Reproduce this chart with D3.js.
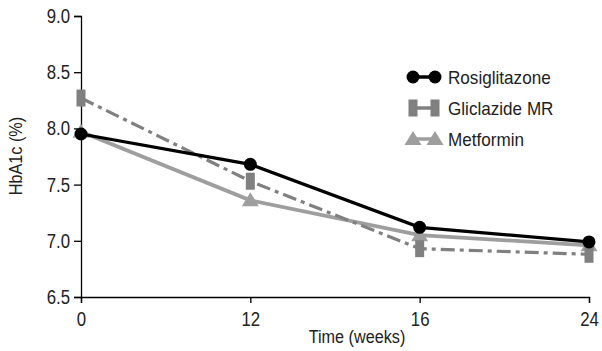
<!DOCTYPE html>
<html>
<head>
<meta charset="utf-8">
<script src="https://cdn.jsdelivr.net/npm/d3@7"></script>
<style>
  body { margin: 0; background: #fff; }
  svg text { font-family: "Liberation Sans Narrow", "Liberation Sans", "DejaVu Sans", sans-serif; }
</style>
</head>
<body>
<svg id="chart" width="602" height="351"></svg>
<script>
const weeks = ["0", "12", "16", "24"];
const rosiglitazone = [7.95, 7.68, 7.12, 6.99];
const gliclazide = [8.27, 7.53, 6.93, 6.88];
const metformin = [7.97, 7.36, 7.05, 6.96];
const yTicks = [6.5, 7.0, 7.5, 8.0, 8.5, 9.0];

const series = [
  { name: "Rosiglitazone", values: rosiglitazone, color: "#000000", dash: null, marker: "circle" },
  { name: "Gliclazide MR", values: gliclazide, color: "#808080", dash: "14,5,4,5", marker: "rect" },
  { name: "Metformin", values: metformin, color: "#9e9e9e", dash: null, marker: "triangle" }
];

const svg = d3.select("#chart");
const plotLeft = 81, plotRight = 589, plotTop = 16, plotBottom = 297;

const x = d3.scalePoint().domain(weeks).range([plotLeft, plotRight]);
const y = d3.scaleLinear().domain([6.5, 9.0]).range([plotBottom, plotTop]);

// axes
const yAxis = svg.append("g")
  .attr("transform", "translate(" + plotLeft + ",0)")
  .call(d3.axisLeft(y).tickValues(yTicks).tickFormat(d3.format(".1f")).tickSizeOuter(0).tickSize(7).tickPadding(4));
const xAxis = svg.append("g")
  .attr("transform", "translate(0," + plotBottom + ")")
  .call(d3.axisBottom(x).tickSizeOuter(0).tickSize(6).tickPadding(4));

svg.selectAll(".domain, .tick line").attr("stroke", "#000").attr("stroke-width", 1.3);
svg.selectAll(".tick text").attr("font-size", 20).attr("fill", "#222")
  .attr("font-family", null);
xAxis.selectAll(".tick text").attr("dy", "0.95em");

// axis titles
svg.append("text")
  .attr("transform", "translate(22,156) rotate(-90)")
  .attr("text-anchor", "middle")
  .attr("font-size", 18).attr("fill", "#222")
  .text("HbA1c (%)");
svg.append("text")
  .attr("x", 357).attr("y", 343)
  .attr("text-anchor", "middle")
  .attr("font-size", 18).attr("fill", "#222")
  .text("Time (weeks)");

function drawMarker(g, type, cx, cy, color) {
  if (type === "circle") {
    g.append("circle").attr("cx", cx).attr("cy", cy).attr("r", 6.5).attr("fill", color);
  } else if (type === "rect") {
    g.append("rect").attr("x", cx - 4.5).attr("y", cy - 8.5).attr("width", 9).attr("height", 17).attr("fill", color);
  } else {
    g.append("path")
      .attr("d", "M" + cx + "," + (cy - 8) + "L" + (cx + 8.5) + "," + (cy + 6) + "L" + (cx - 8.5) + "," + (cy + 6) + "Z")
      .attr("fill", color);
  }
}

const line = d3.line().x((d, i) => x(weeks[i])).y(d => y(d));

// draw back to front: metformin, gliclazide, rosiglitazone
[series[2], series[1], series[0]].forEach(s => {
  const g = svg.append("g");
  g.append("path")
    .datum(s.values)
    .attr("d", line)
    .attr("fill", "none")
    .attr("stroke", s.color)
    .attr("stroke-width", s.marker === "triangle" ? 3.8 : 3.2)
    .attr("stroke-dasharray", s.dash);
  s.values.forEach((v, i) => drawMarker(g, s.marker, x(weeks[i]), y(v), s.color));
});

// legend
const legend = svg.append("g");
series.forEach((s, i) => {
  const ly = 77 + i * 31;
  const g = legend.append("g");
  g.append("line")
    .attr("x1", 412).attr("x2", 436).attr("y1", ly).attr("y2", ly)
    .attr("stroke", s.color).attr("stroke-width", 3.5);
  drawMarker(g, s.marker, 413, ly, s.color);
  drawMarker(g, s.marker, 435, ly, s.color);
  g.append("text")
    .attr("x", 448).attr("y", ly)
    .attr("dy", "0.36em")
    .attr("font-size", 19).attr("fill", "#222")
    .text(s.name);
});

// fake a condensed face: squeeze every text horizontally
svg.selectAll("text").each(function() {
  const w = this.getComputedTextLength();
  const f = this.parentNode.classList.contains("tick") ? 0.84 : 0.9;
  d3.select(this).attr("textLength", w * f).attr("lengthAdjust", "spacingAndGlyphs");
});
</script>
</body>
</html>
